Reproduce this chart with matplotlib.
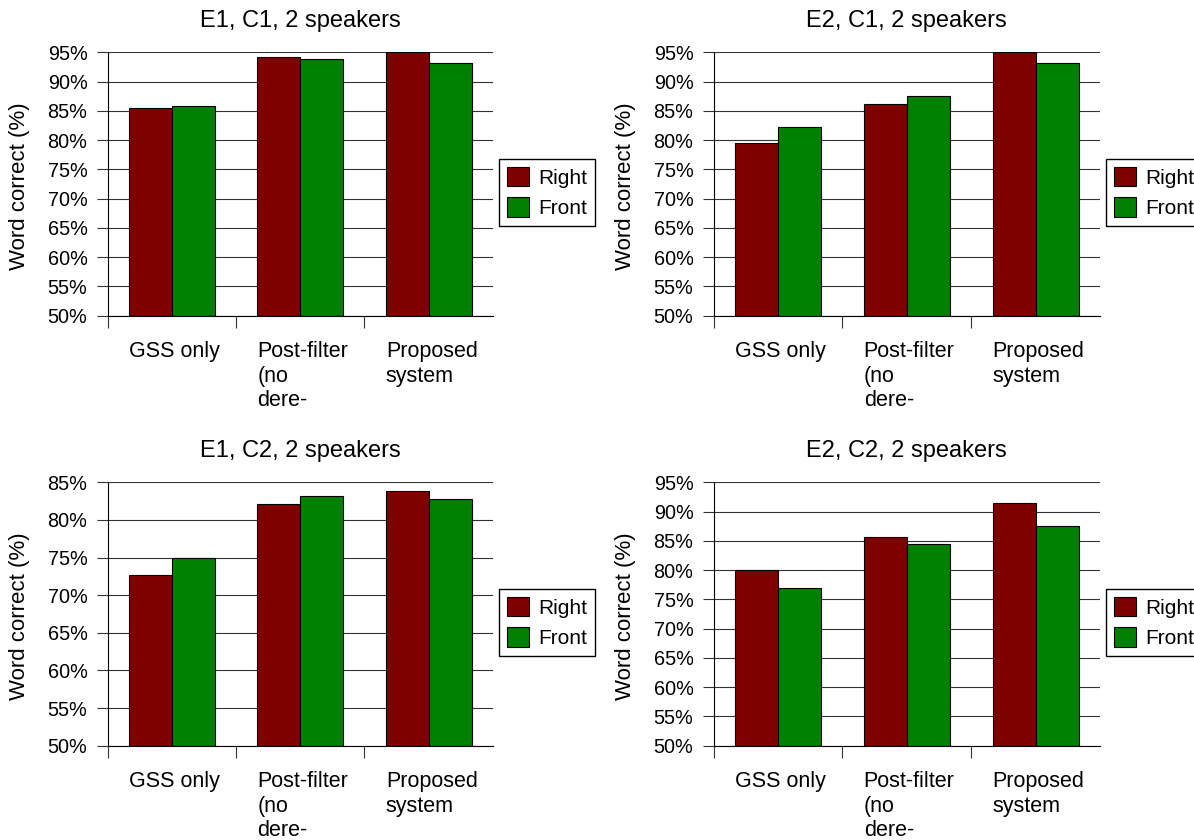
import matplotlib
matplotlib.use("Agg")
import matplotlib.pyplot as plt
import numpy as np

plt.rcParams["font.family"] = ["Liberation Sans", "DejaVu Sans"]

categories = ["GSS only", "Post-filter\n(no\ndere-", "Proposed\nsystem"]
series_names = ["Right", "Front"]
series_colors = ["#800000", "#008000"]

titles = ["E1, C1, 2 speakers", "E2, C1, 2 speakers",
          "E1, C2, 2 speakers", "E2, C2, 2 speakers"]
ymax = [95, 95, 85, 95]

right_vals = [
    [85.4, 94.2, 95.0],   # E1, C1
    [79.5, 86.1, 95.0],   # E2, C1
    [72.7, 82.1, 83.8],   # E1, C2
    [80.0, 85.7, 91.5],   # E2, C2
]
front_vals = [
    [85.8, 93.8, 93.1],
    [82.2, 87.6, 93.1],
    [75.0, 83.2, 82.8],
    [77.0, 84.5, 87.6],
]

W, H = 1194, 840
fig = plt.figure(figsize=(W / 100, H / 100), dpi=100)

# axes boxes in pixels: left, top, right, bottom
boxes = [(107.5, 52.3, 493, 315.7), (713.5, 52.3, 1100, 315.7),
         (107.5, 482.3, 493, 745.7), (713.5, 482.3, 1100, 745.7)]

bw = 0.334
x = np.arange(len(categories))

for k, (l, t, r, b) in enumerate(boxes):
    ax = fig.add_axes([l / W, 1 - b / H, (r - l) / W, (b - t) / H])
    ax.set_axisbelow(True)
    ax.set_xlim(0, 3)
    ax.set_ylim(50, ymax[k])

    for j, vals in enumerate([right_vals[k], front_vals[k]]):
        ax.bar(x + 0.5 + (j - 0.5) * bw, np.array(vals) - 50, bottom=50,
               width=bw, color=series_colors[j], edgecolor="black",
               linewidth=0.8, label=series_names[j])

    yt = np.arange(50, ymax[k] + 1, 5)
    ax.set_yticks(yt)
    ax.set_yticklabels([f"{v}%" for v in yt], fontsize=14.3)
    ax.tick_params(axis="y", length=8.1, width=0.8, color="#333", pad=6.3)
    ax.yaxis.grid(True, color="#333", linewidth=0.8)

    ax.set_xticks([0, 1, 2])
    ax.set_xticklabels([])
    ax.tick_params(axis="x", which="major", length=8.6, width=0.8,
                   color="#333")
    ax.set_xticks(x + 0.5 - bw, minor=True)
    ax.set_xticklabels(categories, minor=True, fontsize=15.5, ha="left",
                       va="top", linespacing=1.24)
    ax.tick_params(axis="x", which="minor", length=0, pad=18)

    for s in ["top", "right"]:
        ax.spines[s].set_visible(False)
    ax.spines["left"].set_linewidth(0.8)
    ax.spines["bottom"].set_linewidth(0.8)

    ax.set_ylabel("Word correct (%)", fontsize=16, va="center")
    ax.yaxis.set_label_coords(-88 / (r - l), 0.49)
    ax.set_title(titles[k], fontsize=17, pad=18)

    ax.legend(loc="center left", bbox_to_anchor=(1.015, 0.468),
              borderaxespad=0, fontsize=15, fancybox=False,
              edgecolor="black", framealpha=1, handlelength=1.09,
              handleheight=1.07, handletextpad=0.41, labelspacing=0.45,
              borderpad=0.38)

fig.savefig("out.png", dpi=100)
